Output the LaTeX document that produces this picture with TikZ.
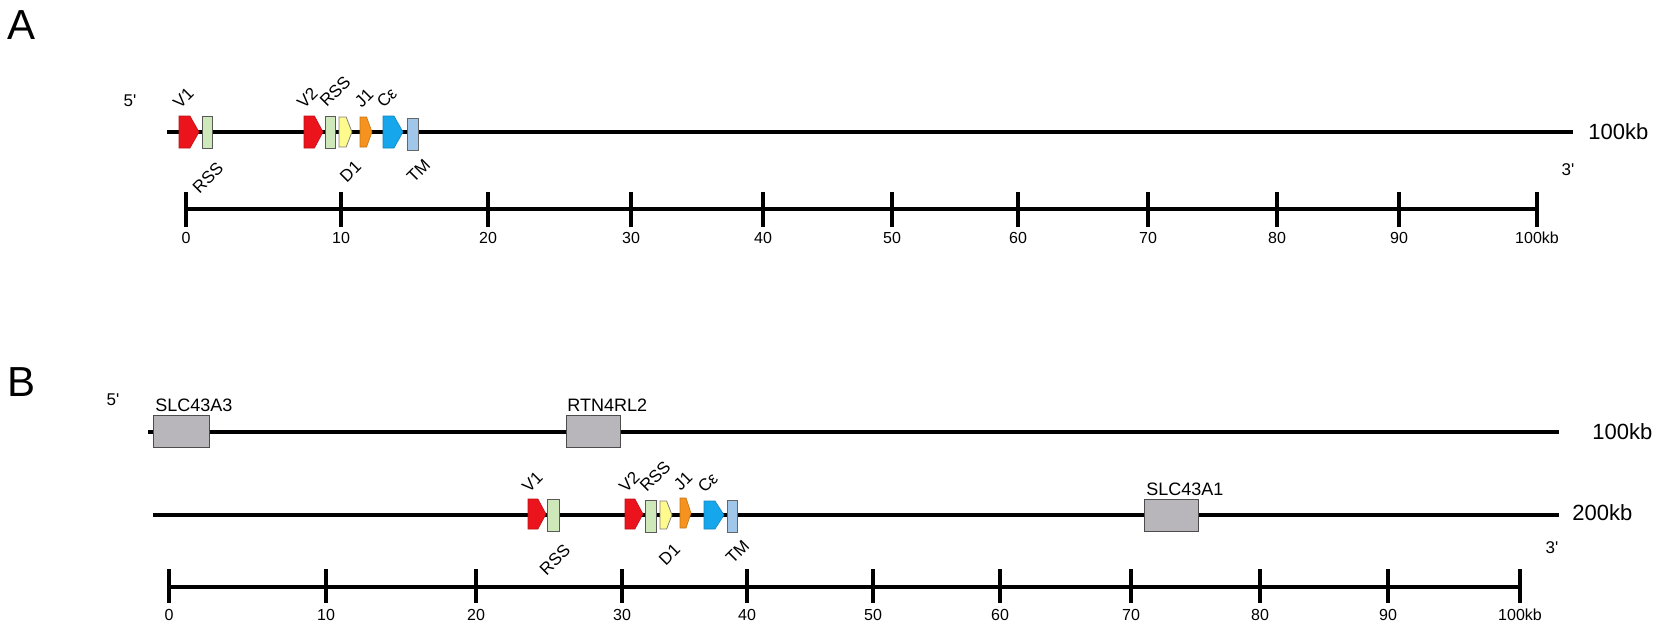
\documentclass[tikz,border=0pt]{standalone}
\usepackage{fontspec}
\setmainfont{Liberation Sans}
\usetikzlibrary{positioning}
\definecolor{vred}{RGB}{236,20,28}
\definecolor{rssgreen}{RGB}{206,232,186}
\definecolor{dyellow}{RGB}{255,250,140}
\definecolor{jorange}{RGB}{246,146,30}
\definecolor{cblue}{RGB}{22,166,236}
\definecolor{tmblue}{RGB}{160,198,234}
\definecolor{locgray}{RGB}{184,182,186}
\tikzset{
  %% chromosome lines and ruler
  chrom/.style={line width=2.1pt, black},
  tickmark/.style={line width=1.6pt, black},
  ticklabel/.style={font=\fontsize{8}{9}\selectfont, inner sep=0pt},
  %% segments
  vseg/.style={fill=vred, draw=vred!80!black, line width=0.3pt},
  rssseg/.style={fill=rssgreen, draw=black!65, line width=0.4pt},
  dseg/.style={fill=dyellow, draw=black!50, line width=0.4pt},
  jseg/.style={fill=jorange, draw=jorange!80!black, line width=0.3pt},
  cseg/.style={fill=cblue, draw=cblue!80!black, line width=0.3pt},
  tmseg/.style={fill=tmblue, draw=black!60, line width=0.4pt},
  locus/.style={fill=locgray, draw=black!70, line width=0.5pt},
  %% labels
  uplabel/.style={font=\fontsize{8.5}{9}\selectfont, rotate=45,
    anchor=south west, inner sep=0.5pt},
  downlabel/.style={font=\fontsize{8.5}{9}\selectfont, rotate=45,
    anchor=north east, inner sep=0.5pt},
  loclabel/.style={font=\fontsize{9}{10}\selectfont, anchor=south west,
    inner sep=0pt},
  endlabel/.style={font=\fontsize{8.5}{9}\selectfont, inner sep=0pt},
  sizelabel/.style={font=\fontsize{11}{12}\selectfont, anchor=west,
    inner sep=0pt},
  panel/.style={font=\fontsize{21}{22}\selectfont, inner sep=0pt},
}
%% left, right, centre y, half height, style
\newcommand{\segarrow}[5]{%
  \filldraw[#5] (#1,#3-#4) -- ({#1+0.55*(#2-#1)},#3-#4) -- (#2,#3)
    -- ({#1+0.55*(#2-#1)},#3+#4) -- (#1,#3+#4) -- cycle;}
\newcommand{\segbox}[5]{%
  \filldraw[#5] (#1,#3-#4) rectangle (#2,#3+#4);}

\begin{document}
\begin{tikzpicture}[x=0.5pt, y=-0.5pt]
  \useasboundingbox (0,0) rectangle (1654,628);

  %% Panel A
  \node[panel] (pA) at (22,25) {A};
  \node[endlabel] (a5) at (130,101) {5\textquotesingle};
  \node[endlabel] (a3) at (1568,170) {3\textquotesingle};
  \coordinate (a-start) at (167,132);
  \coordinate (a-end) at (1573,132);
  \draw[chrom] (a-start) -- (a-end);
  \node[sizelabel] (a-size) at (1588,132) {100kb};

  \segarrow{179}{199}{132}{16}{vseg}
  \segbox{202}{212}{132}{16}{rssseg}
  \segarrow{304}{323}{132}{16}{vseg}
  \segbox{325}{335}{132}{16}{rssseg}
  \segarrow{339}{352}{132}{15}{dseg}
  \segarrow{360}{372}{132}{15}{jseg}
  \segarrow{383}{403}{132}{16}{cseg}
  \segbox{407}{418}{134}{16}{tmseg}

  \node[uplabel] (a-v1) at (180,111) {V1};
  \node[uplabel] (a-v2) at (304,111) {V2};
  \node[uplabel] (a-rss2) at (327,110) {RSS};
  \node[uplabel] (a-j1) at (362,111) {J1};
  \node[uplabel] (a-c) at (384,111) {Cε};
  \node[downlabel] (a-rss1) at (216,159) {RSS};
  \node[downlabel] (a-d1) at (354,158) {D1};
  \node[downlabel] (a-tm) at (423,156) {TM};

  %% ruler A
  \draw[chrom] (186,209) -- (1537,209);
  \foreach \x/\lab/\w [count=\i] in {186/0/1.6, 341/10/1.6, 488/20/1.6,
      631/30/1.6, 763/40/2.4, 892/50/1.6, 1018/60/1.6, 1148/70/1.6,
      1277/80/1.6, 1399/90/1.6, 1537/100kb/1.6} {
    \draw[tickmark, line width=\w pt] (\x,192) -- (\x,227);
    \node[ticklabel] (ra\i) at (\x,238) {\lab};
  }

  %% Panel B
  \node[panel] (pB) at (22,382) {B};
  \node[endlabel] (b5) at (113,400) {5\textquotesingle};
  \node[endlabel] (b3) at (1552,548) {3\textquotesingle};
  \coordinate (b1-start) at (148,432);
  \coordinate (b1-end) at (1559,432);
  \coordinate (b2-start) at (153,515);
  \coordinate (b2-end) at (1559,515);
  \draw[chrom] (b1-start) -- (b1-end);
  \draw[chrom] (b2-start) -- (b2-end);
  \node[sizelabel] (b1-size) at (1592,432) {100kb};
  \node[sizelabel] (b2-size) at (1572,513) {200kb};

  \segbox{153}{209}{431}{16}{locus}
  \segbox{566}{620}{431}{16}{locus}
  \segbox{1144}{1198}{515}{16}{locus}
  \node[loclabel] (slc3) at (155,412) {SLC43A3};
  \node[loclabel] (rtn) at (567,412) {RTN4RL2};
  \node[loclabel] (slc1) at (1146,496) {SLC43A1};

  \segarrow{528}{546}{514}{15}{vseg}
  \segbox{547}{559}{515}{16}{rssseg}
  \segarrow{625}{643}{514}{15}{vseg}
  \segbox{645}{656}{516}{16}{rssseg}
  \segarrow{660}{672}{515}{14}{dseg}
  \segarrow{680}{691}{513}{15}{jseg}
  \segarrow{704}{724}{515}{14}{cseg}
  \segbox{727}{737}{516}{16}{tmseg}

  \node[uplabel] (b-v1) at (529,495) {V1};
  \node[uplabel] (b-v2) at (626,495) {V2};
  \node[uplabel] (b-rss2) at (647,495) {RSS};
  \node[uplabel] (b-j1) at (681,494) {J1};
  \node[uplabel] (b-c) at (705,496) {Cε};
  \node[downlabel] (b-rss1) at (563,541) {RSS};
  \node[downlabel] (b-d1) at (673,541) {D1};
  \node[downlabel] (b-tm) at (742,537) {TM};

  %% ruler B
  \draw[chrom] (169,587) -- (1520,587);
  \foreach \x/\lab/\w [count=\i] in {169/0/1.6, 326/10/2.4, 476/20/1.6,
      622/30/1.6, 747/40/1.6, 873/50/1.6, 1000/60/1.6, 1131/70/2.4,
      1260/80/1.6, 1388/90/1.6, 1520/100kb/1.6} {
    \draw[tickmark, line width=\w pt] (\x,569) -- (\x,603);
    \node[ticklabel] (rb\i) at (\x,615) {\lab};
  }
\end{tikzpicture}
\end{document}
